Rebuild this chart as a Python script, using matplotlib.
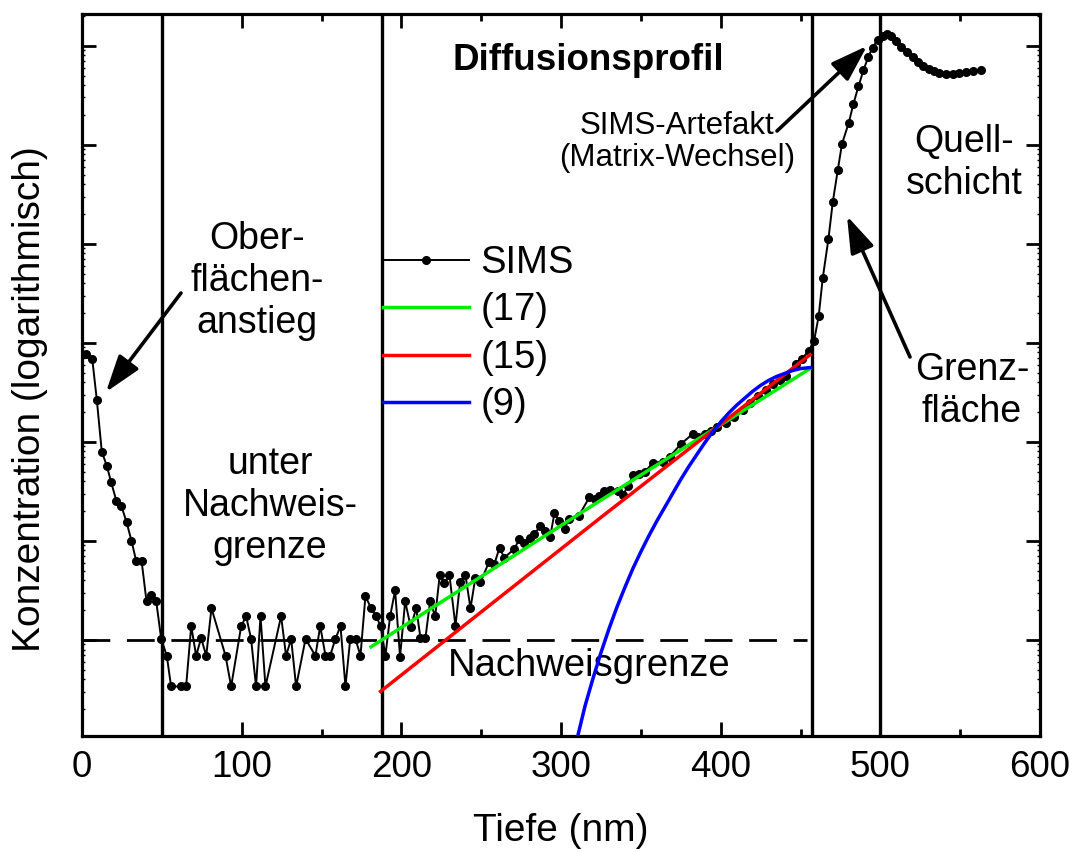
import numpy as np
import matplotlib
matplotlib.use('Agg')
from matplotlib import pyplot as plt
from matplotlib.ticker import MultipleLocator, LogLocator, NullFormatter

plt.rcParams['font.family'] = ['Liberation Sans', 'DejaVu Sans']

# concentrations are given as decades above the lower axis edge (10^LOG_BASE)
LOG_BASE = 15.03

sims_depth = [2.2, 6.4, 9.3, 12.4, 15.5, 18.3, 21.6, 24.7, 27.9, 31.0, 33.9, 37.3, 40.4, 43.3,
              46.5, 49.6, 53.1, 55.8, 62.1, 65.2, 68.4, 71.5, 74.6, 77.8, 81.1, 89.9, 93.4,
              99.7, 102.8, 105.9, 109.0, 111.8, 114.9, 124.7, 127.8, 131.0, 134.1, 140.0,
              146.2, 149.2, 152.5, 155.4, 158.7, 161.9, 165.0, 168.0, 171.3, 174.4, 177.5,
              181.1, 184.2, 187.0, 190.0, 193.0, 196.1, 199.2, 202.4, 205.9, 209.3, 212.0,
              215.1, 218.0, 221.2, 224.1, 227.0, 230.1, 233.9, 236.8, 240.1, 243.3, 246.4,
              249.5, 255.0, 258.3, 261.5, 264.5, 270.8, 274.0, 277.0, 280.3, 283.3, 287.0,
              290.1, 293.2, 295.9, 299.0, 302.2, 304.9, 311.0, 317.8, 321.0, 324.1, 327.2,
              330.4, 335.5, 338.7, 341.8, 345.4, 349.1, 352.5, 357.8, 363.7, 368.0, 375.2,
              382.5, 386.0, 390.0, 394.0, 398.0, 403.4, 408.5, 413.8, 418.5, 423.5, 428.4,
              433.0, 437.0, 441.0, 447.2, 451.0, 455.1, 458.5, 461.4, 463.9, 467.5, 470.2,
              473.3, 476.0, 480.2, 483.1, 486.3, 489.4, 492.5, 495.2, 498.3, 501.5, 504.0,
              506.8, 509.8, 513.0, 516.5, 520.2, 523.4, 526.9, 530.7, 533.8, 536.9, 541.1,
              545.3, 549.5, 553.6, 557.8, 563.0]
sims_dec = [3.86, 3.81, 3.39, 2.87, 2.73, 2.56, 2.37, 2.32, 2.16, 1.97, 1.77, 1.77, 1.36, 1.42,
            1.36, 0.98, 0.81, 0.50, 0.50, 0.50, 1.11, 0.81, 0.99, 0.81, 1.29, 0.81, 0.50,
            1.11, 1.21, 0.98, 0.50, 1.21, 0.50, 1.21, 0.81, 0.98, 0.50, 0.98,
            0.81, 1.11, 0.81, 0.81, 0.98, 1.11, 0.50, 0.98, 0.98, 0.81, 1.41,
            1.29, 1.21, 1.11, 0.81, 1.21, 1.47, 0.80, 1.36, 1.10, 1.29, 0.99,
            0.99, 1.36, 1.21, 1.63, 1.54, 1.63, 1.11, 1.55, 1.63, 1.29, 1.60,
            1.55, 1.76, 1.74, 1.90, 1.80, 1.89, 1.99, 1.95, 2.00, 2.04, 2.12,
            2.07, 2.01, 2.25, 2.17, 2.09, 2.19, 2.22, 2.41, 2.39, 2.42, 2.47,
            2.48, 2.47, 2.43, 2.52, 2.64, 2.65, 2.67, 2.76, 2.77, 2.82, 2.95,
            3.05, 3.02, 3.05, 3.08, 3.12, 3.16, 3.22, 3.29, 3.36, 3.43, 3.49,
            3.55, 3.59, 3.63, 3.76, 3.81, 3.89, 3.99, 4.24, 4.62, 5.02, 5.39,
            5.71, 5.98, 6.19, 6.38, 6.56, 6.72, 6.86, 6.95, 7.03, 7.07, 7.09,
            7.07, 7.02, 6.96, 6.91, 6.86, 6.81, 6.77, 6.73, 6.71, 6.69, 6.68,
            6.68, 6.69, 6.70, 6.71, 6.72]

fit17_depth = [181.0, 318.0, 456.0]
fit17_dec = [0.90, 2.31, 3.71]
fit15_depth = [187.0, 326.0, 456.0]
fit15_dec = [0.45, 2.22, 3.85]
fit9_depth = [308.8, 310.5, 315.0, 320.0, 325.0, 330.0, 335.0, 340.0, 345.0, 350.0, 355.0,
              360.0, 365.0, 370.0, 375.0, 380.0, 385.0, 390.0, 395.0, 400.0, 405.0, 410.0,
              415.0, 420.0, 425.0, 430.0, 435.0, 440.0, 445.0, 450.0, 456.0]
fit9_dec = [-0.10, 0.00, 0.30, 0.58, 0.84, 1.08, 1.30, 1.50, 1.69, 1.86, 2.02,
            2.17, 2.31, 2.45, 2.59, 2.72, 2.84, 2.96, 3.07, 3.17, 3.26, 3.34,
            3.41, 3.48, 3.54, 3.59, 3.63, 3.66, 3.69, 3.71, 3.72]

detect_dec = 0.97
detect_range = [0, 454]
boundaries = [50, 188, 457, 500]

def conc( dec ):
    return 10 ** ( LOG_BASE + np.asarray( dec ) )

#
fig = plt.figure( figsize=(10.79, 8.52), dpi=100 )
ax = fig.add_axes( [82/1079, 116/852, 958/1079, 722/852] )

for b in boundaries:
    ax.axvline( b, color='k', lw=2.4, zorder=2 )
ax.plot( detect_range, conc( [detect_dec]*2 ), color='k', lw=2.0, linestyle=(0, (10, 6)), zorder=2 )

ax.plot( sims_depth, conc( sims_dec ), '-o', color='k', lw=1.4, ms=5.5, label='SIMS', zorder=4 )
ax.plot( fit17_depth, conc( fit17_dec ), color='#00ee00', lw=2.5, label='(17)', zorder=5 )
ax.plot( fit15_depth, conc( fit15_dec ), color='#ff0000', lw=2.5, label='(15)', zorder=5 )
ax.plot( fit9_depth, conc( fit9_dec ), color='#0000ff', lw=2.5, label='(9)', zorder=5 )

ax.set_yscale( 'log' )
ax.set_xlim( 0, 600 )
ax.set_ylim( conc( 0 ), conc( 7.29 ) )

ax.xaxis.set_major_locator( MultipleLocator( 100 ) )
ax.xaxis.set_minor_locator( MultipleLocator( 50 ) )
ax.yaxis.set_major_locator( LogLocator( base=10, numticks=20 ) )
ax.yaxis.set_minor_locator( LogLocator( base=10, subs=np.arange( 2, 10 ), numticks=20 ) )
ax.yaxis.set_major_formatter( NullFormatter() )
ax.yaxis.set_minor_formatter( NullFormatter() )
ax.tick_params( which='both', direction='in', top=True, right=True, width=2.0 )
ax.tick_params( which='major', length=10, labelsize=26.5, pad=10 )
ax.tick_params( axis='x', which='minor', length=5 )
ax.tick_params( axis='y', which='minor', length=2, width=1.0 )
for s in ax.spines.values():
    s.set_linewidth( 2.3 )

ax.set_xlabel( 'Tiefe (nm)', fontsize=28, labelpad=20 )
ax.set_ylabel( 'Konzentration (logarithmisch)', fontsize=28 )
ax.yaxis.set_label_coords( -0.036, 0.467 )

leg = ax.legend( loc='upper left', bbox_to_anchor=(0.314, 0.68), frameon=False, fontsize=27.5,
                 handlelength=2.25, handletextpad=0.3, labelspacing=0.3, borderpad=0,
                 borderaxespad=0 )

def fx( px ): return ( px - 82 ) / 958
def fy( py ): return ( 736 - py ) / 722

ax.text( fx( 588 ), fy( 61 ), 'Diffusionsprofil', fontsize=26.5, fontweight='bold',
         ha='center', va='center', transform=ax.transAxes )
ax.text( fx( 257 ), fy( 281 ), 'Ober-\nflächen-\nanstieg', fontsize=27, ha='center', va='center',
         linespacing=1.2, transform=ax.transAxes )
ax.text( fx( 270 ), fy( 506 ), 'unter\nNachweis-\ngrenze', fontsize=27, ha='center', va='center',
         linespacing=1.2, transform=ax.transAxes )
ax.text( fx( 589 ), fy( 666 ), 'Nachweisgrenze', fontsize=27.5, ha='center', va='center',
         transform=ax.transAxes )
ax.text( fx( 677 ), fy( 142 ), 'SIMS-Artefakt\n(Matrix-Wechsel)', fontsize=22.5, ha='center',
         va='center', linespacing=1.1, transform=ax.transAxes )
ax.text( fx( 964 ), fy( 163 ), 'Quell-\nschicht', fontsize=27, ha='center', va='center',
         linespacing=1.2, transform=ax.transAxes )
ax.text( fx( 972 ), fy( 391 ), 'Grenz-\nfläche', fontsize=27, ha='center', va='center',
         linespacing=1.2, transform=ax.transAxes )

arrow = dict( arrowstyle='-|>,head_length=0.9,head_width=0.3', color='k', lw=2.6,
              shrinkA=0, shrinkB=0, mutation_scale=25 )
ax.annotate( '', xy=( fx( 106 ), fy( 392 ) ), xytext=( fx( 181 ), fy( 293 ) ),
             xycoords='axes fraction', textcoords='axes fraction', arrowprops=arrow )
ax.annotate( '', xy=( fx( 867 ), fy( 46 ) ), xytext=( fx( 777 ), fy( 131 ) ),
             xycoords='axes fraction', textcoords='axes fraction', arrowprops=arrow )
ax.annotate( '', xy=( fx( 847 ), fy( 216 ) ), xytext=( fx( 910 ), fy( 357 ) ),
             xycoords='axes fraction', textcoords='axes fraction', arrowprops=arrow )

fig.savefig( 'out.png', dpi=100 )
